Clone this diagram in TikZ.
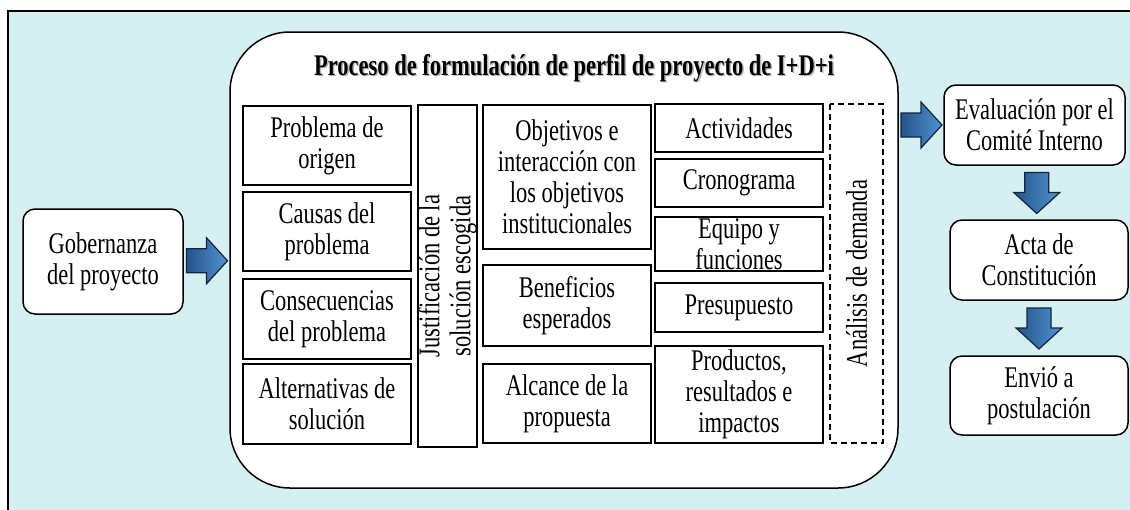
\documentclass[tikz,border=0pt]{standalone}
\usepackage{fontspec}
\setmainfont{Liberation Serif}[FakeStretch=0.75]
\usepackage{tikz}
\usetikzlibrary{calc}

\definecolor{fondo}{RGB}{214,240,242}
\definecolor{flechaosc}{RGB}{36,84,138}
\definecolor{flechacla}{RGB}{80,146,208}
\definecolor{bordeflecha}{RGB}{20,36,60}

\tikzset{
  caja/.style={draw, line width=1.5pt, fill=white, inner sep=0pt, align=center,
               font=\fontsize{30}{31}\selectfont},
  redonda/.style={caja, rounded corners=12pt},
  demanda/.style={caja, dashed, dash pattern=on 6pt off 4pt, fill=none},
  flecha/.style={draw=bordeflecha, line width=1.2pt, line join=miter,
                 left color=flechaosc, right color=flechacla},
  bloque/.pic={\draw[flecha] (-20,-12) -- (0,-12) -- (0,-23) -- (21,0) -- (0,23) -- (0,12) -- (-20,12) -- cycle;}
}

\begin{document}
\begin{tikzpicture}[x=1pt,y=-1pt]
\clip (0,0) rectangle (1130,509);
\draw[fill=fondo, line width=2pt] (8,11) rectangle (1160,540);
%\SetVertexNormal
\node[draw, line width=1.5pt, fill=white, rounded corners=60pt, minimum width=668pt, minimum height=456pt] (proc) at (564,260) {};
\node[text=black!28, font=\fontsize{30}{31}\selectfont\bfseries] at (575.5,69.5) {Proceso de formulación de perfil de proyecto de I+D+i};
\node[font=\fontsize{30}{31}\selectfont\bfseries] (titulo) at (574,68) {Proceso de formulación de perfil de proyecto de I+D+i};

\node[caja, minimum width=168pt, minimum height=79pt] (orig) at (327,145.5) {Problema de\\origen};
\node[caja, minimum width=168pt, minimum height=79pt] (caus) at (327,231.5) {Causas del\\problema};
\node[caja, minimum width=168pt, minimum height=80pt] (cons) at (327,319) {Consecuencias\\del problema};
\node[caja, minimum width=168pt, minimum height=80pt] (alt) at (327,404) {Alternativas de\\solución};
\node[caja, rotate=90, minimum width=342pt, minimum height=59pt] (just) at (447.5,276) {Justificación de la\\solución escogida};
\node[caja, minimum width=168pt, minimum height=144pt] (obj) at (567,177) {Objetivos e\\interacción con\\los objetivos\\institucionales};
\node[caja, minimum width=168pt, minimum height=81pt] (ben) at (567,305.5) {Beneficios\\esperados};
\node[caja, minimum width=168pt, minimum height=79pt] (alc) at (567,403.5) {Alcance de la\\propuesta};
\node[caja, minimum width=168pt, minimum height=48pt] (act) at (739,128) {Actividades};
\node[caja, minimum width=168pt, minimum height=48pt] (cron) at (739,183) {Cronograma};
\node[caja, minimum width=168pt, minimum height=54pt] (equ) at (739,244) {Equipo y\\funciones};
\node[caja, minimum width=168pt, minimum height=49pt] (pres) at (739,307.5) {Presupuesto};
\node[caja, minimum width=168pt, minimum height=97pt] (prod) at (739,394.5) {Productos,\\resultados e\\impactos};
\node[demanda, rotate=90, minimum width=339pt, minimum height=53pt] (dem) at (856.5,273.5) {Análisis de demanda};

\node[redonda, minimum width=160pt, minimum height=105pt] (gob) at (103,261.5) {Gobernanza\\del proyecto};
\node[redonda, minimum width=181pt, minimum height=80pt] (eval) at (1034.5,125) {Evaluación por el\\Comité Interno};
\node[redonda, minimum width=178pt, minimum height=80pt] (acta) at (1039,260) {Acta de\\Constitución};
\node[redonda, minimum width=178pt, minimum height=79pt] (env) at (1039,395.5) {Envió a\\postulación};

\pic at ($(gob.east)!0.5!(proc.west)$) {bloque};
\pic at ($(proc.east |- eval.west)!0.5!(eval.west)$) {bloque};
\pic[rotate=-90] at ($(eval.south)!0.5!(acta.north)$) {bloque};
\pic[rotate=-90] at ($(acta.south)!0.5!(env.north)$) {bloque};
\end{tikzpicture}
\end{document}
